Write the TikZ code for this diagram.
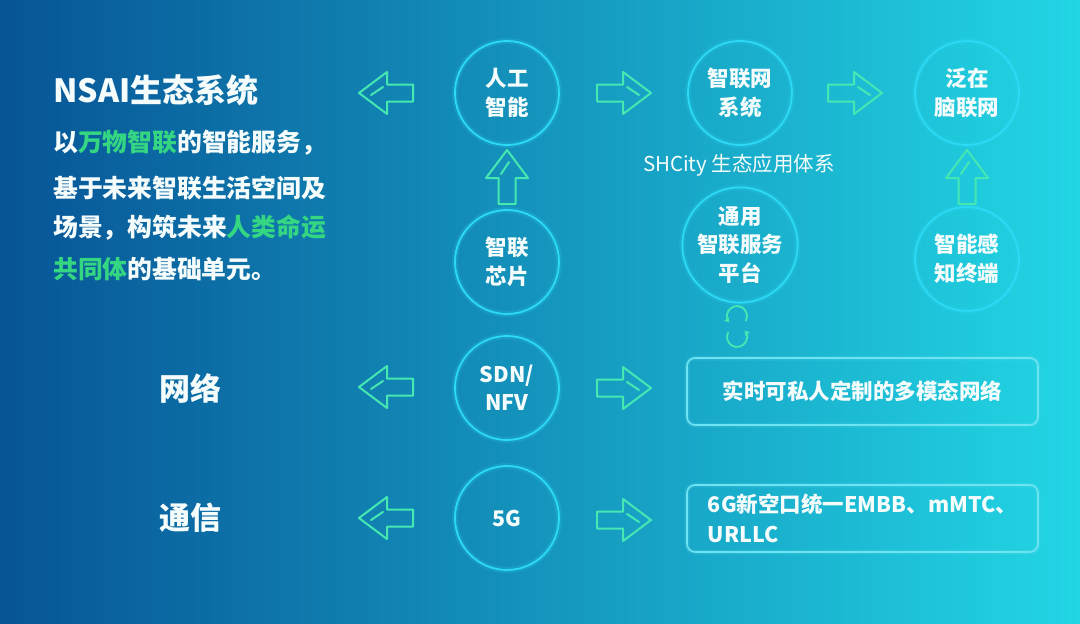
\documentclass[tikz,border=0pt]{standalone}
\usepackage{fontspec}
\setmainfont{Noto Sans CJK SC}
\usetikzlibrary{arrows.meta}
\definecolor{bgL}{RGB}{7,84,150}
\definecolor{bgM}{RGB}{14,138,196}
\definecolor{bgR}{RGB}{34,214,228}
\definecolor{ringc}{RGB}{45,218,245}
\definecolor{mint}{RGB}{70,232,178}
\definecolor{boxc}{RGB}{110,228,242}
\definecolor{hl}{RGB}{52,214,130}
\definecolor{txt}{RGB}{245,252,252}
\tikzset{
  ring/.style={circle, draw=ringc, line width=1.8pt, minimum size=104pt, inner sep=0pt,
    align=center, text=txt, font=\fontsize{21.5}{28.5}\selectfont\bfseries,
    preaction={draw=ringc, line width=6pt, draw opacity=0.18}},
  panel/.style={rectangle, rounded corners=8pt, draw=boxc, line width=1.6pt,
    minimum width=351pt, minimum height=67pt, inner sep=0pt, align=left,
    text=txt, font=\fontsize{21.5}{30}\selectfont\bfseries,
    preaction={draw=boxc, line width=5pt, draw opacity=0.15}},
  arrowline/.style={draw=mint, line width=2pt, line join=round, line cap=round},
  barrow/.pic={
    \draw[arrowline] (-27,-8.5) -- (-1,-8.5) -- (-1,-21) -- (27,0) -- (-1,21) -- (-1,8.5) -- (-27,8.5) -- cycle;
    \draw[arrowline] (3,-6) -- (15,2);
  },
  para/.style={anchor=west, inner sep=0pt, text=txt, font=\fontsize{24.8}{30}\selectfont\bfseries},
  side/.style={inner sep=0pt, text=txt, font=\fontsize{31}{34}\selectfont\bfseries},
  cyc/.style={mint, line width=1.8pt, -{Stealth[length=5pt,width=6pt]}}
}
\begin{document}
\begin{tikzpicture}[x=1pt,y=-1pt]
\useasboundingbox (0,0) rectangle (1080,624);
\shade[left color=bgL, middle color=bgM, right color=bgR] (0,0) rectangle (1080,624);

% left texts
\node[anchor=west, inner sep=0pt, text=txt, font=\fontsize{32}{34}\selectfont\bfseries] (title) at (53,90) {NSAI生态系统};
\node[para] (d1) at (53,143) {以{\color{hl}万物智联}的智能服务，};
\node[para] (d2) at (53,188) {基于未来智联生活空间及};
\node[para] (d3) at (53,228) {场景，构筑未来{\color{hl}人类命运}};
\node[para] (d4) at (53,269) {{\color{hl}共同体}的基础单元。};
\node[side] (net) at (190,388) {网络};
\node[side] (com) at (190,518) {通信};

% circles
\node[ring] (ai) at (507,93) {人工\\智能};
\node[ring] (iot) at (740,93) {智联网\\系统};
\node[ring] (brain) at (967,93) {泛在\\脑联网};
\node[ring] (chip) at (507,262) {智联\\芯片};
\node[ring] (plat) at (740,245) {通用\\智联服务\\平台};
\node[ring] (sense) at (967,259) {智能感\\知终端};
\node[ring] (sdn) at (507,388) {SDN/\\NFV};
\node[ring] (g5) at (507,518) {5G};

\node[inner sep=0pt, text=txt, font=\fontsize{20.5}{22}\selectfont] (shc) at (739,165) {SHCity 生态应用体系};

% boxes
\node[panel] (mnet) at (862.5,391.5) {实时可私人定制的多模态网络};
\node[panel] (six) at (862.5,518.5) {6G新空口统一EMBB、mMTC、\\URLLC};

% arrows
\pic[xscale=-1] at (386,93) {barrow};
\pic at (624,93) {barrow};
\pic at (855,93) {barrow};
\pic[rotate=90] at (507,177) {barrow};
\pic[rotate=90] at (967,177) {barrow};
\pic[xscale=-1] at (386,387) {barrow};
\pic at (624,388) {barrow};
\pic[xscale=-1] at (386,518) {barrow};
\pic at (624,520) {barrow};

% refresh icon
\draw[cyc] (737,316) ++(30:10) arc[start angle=30, end angle=-220, radius=10];
\draw[cyc] (737,337) ++(-150:10) arc[start angle=-150, end angle=-400, radius=10];
\end{tikzpicture}
\end{document}
